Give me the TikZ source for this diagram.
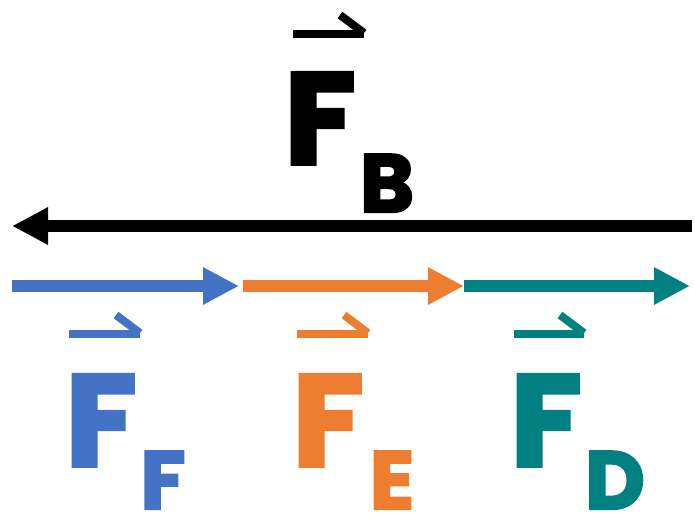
\documentclass[tikz,border=0pt]{standalone}
\usepackage{fontspec}
\usepackage{tikz}
\usetikzlibrary{arrows.meta,positioning,calc}
\newfontfamily\chunkyfont{Poppins Bold}[FakeBold=3]
\definecolor{forceblue}{RGB}{68,114,196}
\definecolor{forceorange}{RGB}{237,125,49}
\definecolor{forceteal}{RGB}{0,128,128}
\tikzset{
  force/.style={line width=12pt, -{Triangle[length=36pt,width=35pt]}},
  bigletter/.style={font=\chunkyfont\fontsize{130}{130}\selectfont, inner sep=0pt, text depth=0pt, text height=92pt, anchor=center},
  subletter/.style={font=\chunkyfont\fontsize{82}{82}\selectfont, inner sep=0pt, text depth=0pt, text height=58pt, anchor=center},
  hookbar/.style={line width=8pt},
}
\begin{document}
\begin{tikzpicture}[x=1pt,y=-1pt]
  \useasboundingbox (0,0) rectangle (695,517);
  % force arrows
  \coordinate (bstart) at (692,226);
  \coordinate (bend) at (12,226);
  \coordinate (p0) at (12,286);
  \coordinate (p1) at (239,286);
  \coordinate (p2) at (243,286);
  \coordinate (p3) at (464,286);
  \coordinate (p4) at (690,286);
  \draw[force,black] (bstart) -- (bend);
  \draw[force,forceblue] (p0) -- (p1);
  \draw[force,forceorange] (p2) -- (p3);
  \draw[force,forceteal] (p3) -- (p4);
  % labels
  \foreach \n/\x/\y/\sx/\sy/\s/\c/\hl/\hr/\hy in {fb/320/118/387/183/B/black/293/364/34,
      ff/101/420/163/480/F/forceblue/69/140/334,
      fe/328/420/392/480/E/forceorange/297/368/334,
      fd/546/420/615/480/D/forceteal/514/584/334}{
    \node[bigletter,text=\c] (\n) at (\x,\y) {F};
    \node[subletter,text=\c] (\n s) at (\sx,\sy) {\s};
    \coordinate (\n l) at (\hl,\hy);
    \coordinate (\n r) at (\hr,\hy);
    \draw[hookbar,\c] (\n l) -- (\n r);
    \draw[hookbar,\c] ($(\n r)+(-24,-19)$) -- ($(\n r)+(0,-1)$);
  }
\end{tikzpicture}
\end{document}
